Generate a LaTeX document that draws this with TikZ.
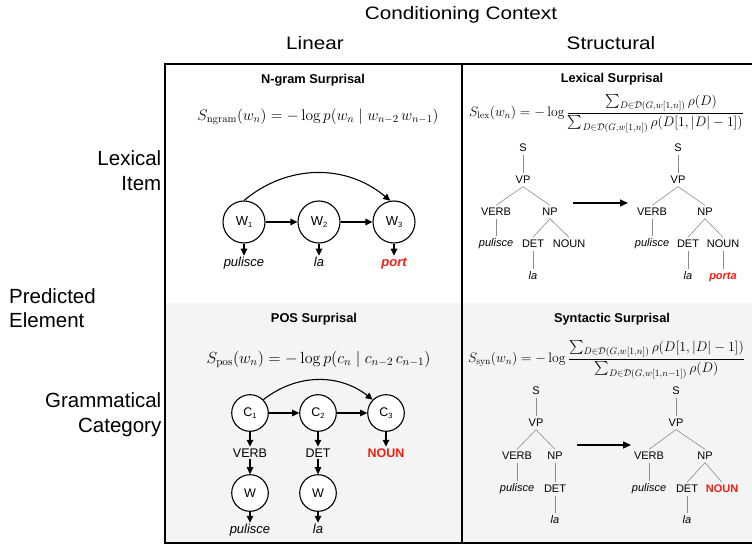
\documentclass[tikz,border=0pt]{standalone}
\usepackage{amsmath}
\usepackage{graphicx}
\usepackage{fontspec}
\newfontfamily\arial{Liberation Sans}
\newfontfamily\hdrfont[FakeStretch=1.15]{Liberation Sans}
\usetikzlibrary{arrows.meta}
\definecolor{hl}{RGB}{240,32,18}
\definecolor{panelgray}{RGB}{244,244,244}
\newcommand\subsc[1]{\raisebox{-2.5pt}{\fontsize{7.5}{8}\selectfont #1}}
\tikzset{
  lbl/.style={font=\arial\fontsize{20.5}{24.5}\selectfont, inner sep=0pt},
  hdr/.style={font=\hdrfont\fontsize{18}{22}\selectfont, inner sep=0pt},
  ttl/.style={font=\arial\bfseries\fontsize{12.8}{15}\selectfont, inner sep=0pt, anchor=base},
  frm/.style={font=\fontsize{14.4}{17}\selectfont, inner sep=0pt, anchor=base},
  wnode/.style={circle, draw, line width=1.1pt, minimum size=42pt, inner sep=0pt, fill=white, font=\arial\fontsize{13}{15}\selectfont},
  cnode/.style={wnode, minimum size=36.6pt, font=\arial\fontsize{12.5}{14}\selectfont},
  word/.style={font=\arial\itshape\fontsize{13}{15}\selectfont, inner sep=1pt, text height=9.4pt, text depth=2.7pt},
  redword/.style={word, font=\arial\bfseries\itshape\fontsize{13}{15}\selectfont, text=hl},
  cat/.style={font=\arial\fontsize{12.5}{14}\selectfont, inner sep=1.5pt, text height=9pt, text depth=0pt},
  redcat/.style={cat, font=\arial\bfseries\fontsize{12.5}{14}\selectfont, text=hl},
  tn/.style={font=\arial\fontsize{11}{12}\selectfont, inner sep=2.5pt, text height=7.9pt, text depth=0pt},
  ti/.style={tn, font=\arial\itshape\fontsize{11}{12}\selectfont, text depth=2.3pt},
  tr/.style={ti, font=\arial\bfseries\itshape\fontsize{11}{12}\selectfont, text=hl},
  trc/.style={tn, font=\arial\bfseries\fontsize{11}{12}\selectfont, text=hl},
  tl/.style={draw=black!45, line width=0.6pt},
  arr/.style={-{Triangle[length=7pt,width=6.5pt]}, line width=1.1pt},
  bigarr/.style={-{Triangle[length=8pt,width=7pt]}, line width=1.4pt},
  frame/.style={line width=1.2pt},
}
\begin{document}
\begin{tikzpicture}[x=1pt,y=-1pt]
\useasboundingbox (0,0) rectangle (752,545);
\clip (0,0) rectangle (752,545);
% panels
\fill[panelgray] (165,303) rectangle (770,543);
\draw[frame] (770,64) -- (165,64) -- (165,543) -- (770,543);
\draw[frame] (462,64) -- (462,543);

% headers
\node[hdr] (cc) at (461,14.5) {Conditioning Context};
\node[hdr] (lin) at (315,43) {Linear};
\node[hdr] (str) at (611,43) {Structural};

% row labels
\node[lbl, align=right, anchor=east] (li) at (161.5,170.5) {Lexical\\Item};
\node[lbl, align=left, anchor=west] (pe) at (9,308) {Predicted\\Element};
\node[lbl, align=right, anchor=east] (gc) at (161.5,414.5) {Grammatical\\Category};

% ---------- top left: N-gram ----------
\node[ttl] (t1) at (313,83.5) {N-gram Surprisal};
\node[frm] (f1) at (318,120.5) {\scalebox{1.07}{$S_{\mathrm{ngram}}(w_n) = -\log p(w_n \mid w_{n-2}\, w_{n-1})$}};
\node[wnode] (w1) at (244,222) {W\subsc{1}};
\node[wnode] (w2) at (319,222) {W\subsc{2}};
\node[wnode] (w3) at (394,222) {W\subsc{3}};
\draw[arr] (w1) -- (w2);
\draw[arr] (w2) -- (w3);
\draw[arr] (w1.north) to[bend left=40] (w3.100);
\node[word] (p1) at (244,263) {pulisce};
\node[word] (p2) at (319,263) {la};
\node[redword] (p3) at (394,263) {port};
\draw[arr] (w1) -- (p1);
\draw[arr] (w2) -- (p2);
\draw[arr] (w3) -- (p3);

% ---------- bottom left: POS ----------
\node[ttl] (t3) at (314,322.5) {POS Surprisal};
\node[frm] (f3) at (318.5,363) {\scalebox{1.12}{$S_{\mathrm{pos}}(w_n) = -\log p(c_n \mid c_{n-2}\, c_{n-1})$}};
\node[cnode] (c1) at (250,413) {C\subsc{1}};
\node[cnode] (c2) at (318,413) {C\subsc{2}};
\node[cnode] (c3) at (386,413) {C\subsc{3}};
\draw[arr] (c1) -- (c2);
\draw[arr] (c2) -- (c3);
\draw[arr] (c1.45) to[bend left=38] (c3.135);
\node[cat] (k1) at (250,453) {VERB};
\node[cat] (k2) at (318,453) {DET};
\node[redcat] (k3) at (386,453) {NOUN};
\draw[arr] (c1) -- (k1);
\draw[arr] (c2) -- (k2);
\draw[arr] (c3) -- (k3);
\node[cnode] (v1) at (250,493) {W};
\node[cnode] (v2) at (318,493) {W};
\draw[arr] (k1) -- (v1);
\draw[arr] (k2) -- (v2);
\node[word] (q1) at (250,530) {pulisce};
\node[word] (q2) at (318,530) {la};
\draw[arr] (v1) -- (q1);
\draw[arr] (v2) -- (q2);

% ---------- top right: Lexical ----------
\node[ttl] (t2) at (612,83) {Lexical Surprisal};
\node[frm] (f2) at (606.5,116.7) {\scalebox{0.956}{$\displaystyle S_{\mathrm{lex}}(w_n) = -\log \frac{\hspace{12pt}\sum_{D\in\mathcal{D}(G,w[1,n])} \rho(D)}{\sum_{D\in\mathcal{D}(G,w[1,n])} \rho(D[1,|D|-1])}$}};
% left tree
\node[tn] (as) at (523,148) {S};
\node[tn] (avp) at (523,180) {VP};
\node[tn] (averb) at (496,212) {VERB};
\node[tn] (anp) at (550,212) {NP};
\node[ti] (apul) at (496,244) {pulisce};
\node[tn] (adet) at (533,244) {DET};
\node[tn] (anoun) at (569,244) {NOUN};
\node[ti] (ala) at (533,277) {la};
\draw[tl] (as) -- (avp);
\draw[tl] (avp.south) -- (averb.north);
\draw[tl] (avp.south) -- (anp.north);
\draw[tl] (averb) -- (apul);
\draw[tl] (anp.south) -- (adet.north);
\draw[tl] (anp.south) -- (anoun.north);
\draw[tl] (adet) -- (ala);
% arrow
\coordinate (a1s) at (573,203);
\coordinate (a1e) at (628,203);
\draw[bigarr] (a1s) -- (a1e);
% right tree
\node[tn] (bs) at (678,148) {S};
\node[tn] (bvp) at (678,180) {VP};
\node[tn] (bverb) at (652,212) {VERB};
\node[tn] (bnp) at (705,212) {NP};
\node[ti] (bpul) at (652,244) {pulisce};
\node[tn] (bdet) at (688,244) {DET};
\node[tn] (bnoun) at (723,244) {NOUN};
\node[ti] (bla) at (688,277) {la};
\node[tr] (bporta) at (723,277) {porta};
\draw[tl] (bs) -- (bvp);
\draw[tl] (bvp.south) -- (bverb.north);
\draw[tl] (bvp.south) -- (bnp.north);
\draw[tl] (bverb) -- (bpul);
\draw[tl] (bnp.south) -- (bdet.north);
\draw[tl] (bnp.south) -- (bnoun.north);
\draw[tl] (bdet) -- (bla);
\draw[tl] (bnoun) -- (bporta);

% ---------- bottom right: Syntactic ----------
\node[ttl] (t4) at (612,322.5) {Syntactic Surprisal};
\node[frm] (f4) at (606.5,362.7) {\scalebox{0.956}{$\displaystyle S_{\mathrm{syn}}(w_n) = -\log \frac{\sum_{D\in\mathcal{D}(G,w[1,n])} \rho(D[1,|D|-1])}{\sum_{D\in\mathcal{D}(G,w[1,n-1])} \rho(D)}$}};
% left tree
\node[tn] (cs) at (536,391) {S};
\node[tn] (cvp) at (536,423) {VP};
\node[tn] (cverb) at (517,456) {VERB};
\node[tn] (cnp) at (555,456) {NP};
\node[ti] (cpul) at (517,489) {pulisce};
\node[tn] (cdet) at (555,489) {DET};
\node[ti] (cla) at (555,521) {la};
\draw[tl] (cs) -- (cvp);
\draw[tl] (cvp.south) -- (cverb.north);
\draw[tl] (cvp.south) -- (cnp.north);
\draw[tl] (cverb) -- (cpul);
\draw[tl] (cnp) -- (cdet);
\draw[tl] (cdet) -- (cla);
% arrow
\coordinate (a2s) at (577,445);
\coordinate (a2e) at (631,445);
\draw[bigarr] (a2s) -- (a2e);
% right tree
\node[tn] (ds) at (676,391) {S};
\node[tn] (dvp) at (676,423) {VP};
\node[tn] (dverb) at (649,456) {VERB};
\node[tn] (dnp) at (705,456) {NP};
\node[ti] (dpul) at (649,489) {pulisce};
\node[tn] (ddet) at (687,489) {DET};
\node[trc] (dnoun) at (722,489) {NOUN};
\node[ti] (dla) at (687,521) {la};
\draw[tl] (ds) -- (dvp);
\draw[tl] (dvp.south) -- (dverb.north);
\draw[tl] (dvp.south) -- (dnp.north);
\draw[tl] (dverb) -- (dpul);
\draw[tl] (dnp.south) -- (ddet.north);
\draw[tl] (dnp.south) -- (dnoun.north);
\draw[tl] (ddet) -- (dla);
\end{tikzpicture}
\end{document}
